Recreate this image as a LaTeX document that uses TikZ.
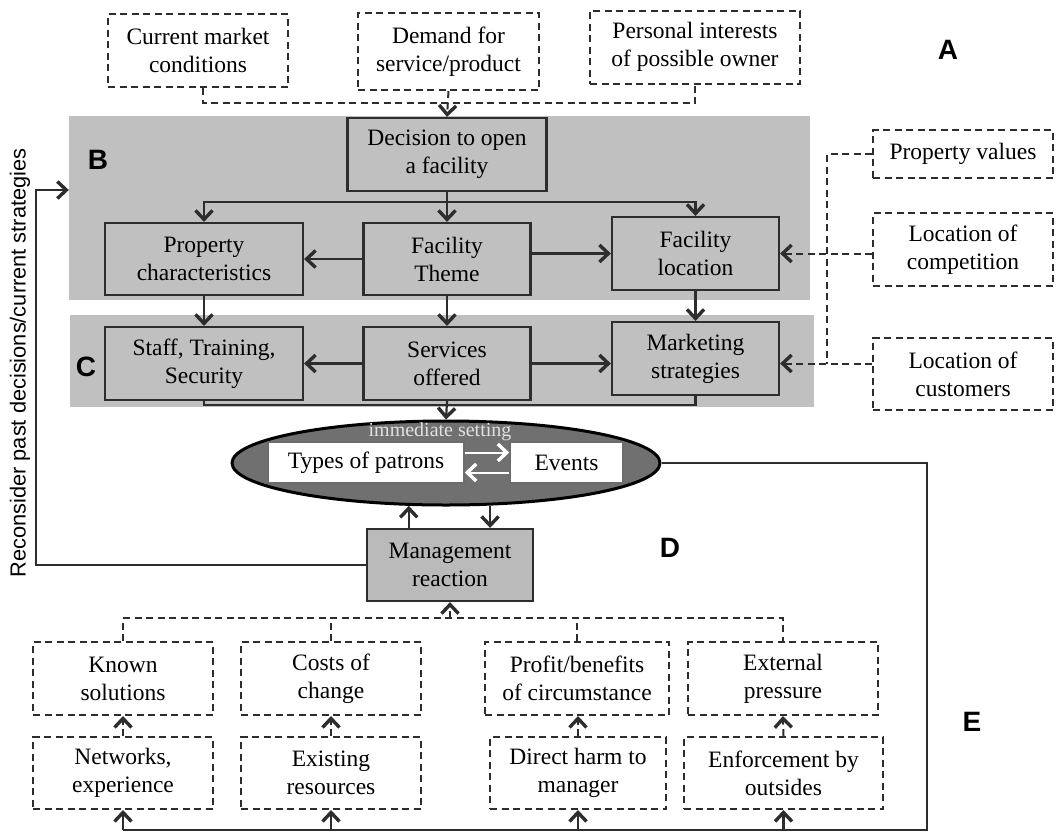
\documentclass[tikz,border=0pt]{standalone}
\usepackage{fontspec}
\setmainfont{Liberation Serif}
\newfontfamily\arialfont{Liberation Sans}
\usetikzlibrary{arrows.meta,shapes.geometric}

\definecolor{band}{RGB}{192,192,192}
\definecolor{mgmtgray}{RGB}{186,186,186}
\definecolor{ellgray}{RGB}{112,112,112}
\definecolor{ink}{RGB}{45,45,45}
\definecolor{softwhite}{RGB}{225,225,225}

\tikzset{
  every node/.style={font=\fontsize{23.5}{28}\selectfont, text=black},
  sz/.style 2 args={minimum width=#1pt, minimum height=#2pt},
  solidbox/.style={draw=ink, line width=2.2pt, fill=band, align=center, inner sep=0pt},
  dashbox/.style={draw=ink, line width=2pt, dash pattern=on 7pt off 4.5pt,
    fill=white, align=center, inner sep=0pt},
  chev/.tip={Straight Barb[length=9pt,width=17pt,line width=3.4pt]},
  conn/.style={draw=ink, line width=2.2pt},
  arr/.style={conn, -chev},
  dline/.style={draw=ink, line width=2pt, dash pattern=on 7pt off 4.5pt},
  darr/.style={dline, -chev},
  tag/.style={font=\arialfont\bfseries\fontsize{28}{30}\selectfont},
  sidetext/.style={font=\arialfont\fontsize{21.8}{24}\selectfont, rotate=90},
}

\begin{document}
\begin{tikzpicture}[x=1pt, y=-1pt]
\useasboundingbox (0,0) rectangle (1057,833);

% shaded bands
\node[fill=band, inner sep=0pt, sz={741}{184}] (bandB) at (439.5,208) {};
\node[fill=band, inner sep=0pt, sz={744}{92}] (bandC) at (442,361) {};

% section letters
\node[tag] (lA) at (948,50) {A};
\node[tag] (lB) at (98,160) {B};
\node[tag] (lC) at (86,367) {C};
\node[tag] (lD) at (670,548) {D};
\node[tag] (lE) at (972,722) {E};

% outside influences on the decision
\node[dashbox, sz={180}{73}] (cm)  at (198,50.5)  {Current market\\conditions};
\node[dashbox, sz={181}{77}] (dem) at (448.5,51.5) {Demand for\\service/product};
\node[dashbox, sz={210}{73}] (pio) at (695,47)    {Personal interests\\of possible owner};

% band B
\node[solidbox, sz={199}{73}] (dec)   at (447,154.5) {Decision to open\\a facility};
\node[solidbox, sz={198}{72}] (prop)  at (204,259)   {Property\\characteristics};
\node[solidbox, sz={167}{72}] (theme) at (447,259)   {Facility\\Theme};
\node[solidbox, sz={167}{73}] (loc)   at (695.5,253.5) {Facility\\location};

% band C
\node[solidbox, sz={198}{73}] (staff) at (204,363.5)   {Staff, Training,\\Security};
\node[solidbox, sz={167}{73}] (serv)  at (447,363.5)   {Services\\offered};
\node[solidbox, sz={167}{73}] (mkt)   at (695.5,358.5) {Marketing\\strategies};

% location factors
\node[dashbox, sz={180}{48}] (pv)   at (963,154)   {Property values};
\node[dashbox, sz={180}{73}] (comp) at (963,249.5) {Location of\\competition};
\node[dashbox, sz={180}{72}] (cust) at (963,374)   {Location of\\customers};

% immediate setting
\node[ellipse, draw=black, line width=3pt, fill=ellgray, inner sep=0pt, sz={428}{84}] (ell) at (446,463) {};
\node[draw=ink!70, line width=1.5pt, fill=white, inner sep=0pt, sz={196}{41}] (types)  at (366,462.5) {Types of patrons};
\node[draw=ink!70, line width=1.5pt, fill=white, inner sep=0pt, sz={113}{41}] (events) at (566.5,462.5) {Events};
\node[text=softwhite, font=\fontsize{20}{22}\selectfont] (imm) at (440,432) {immediate setting};
\draw[white, line width=2pt, -chev] ([yshift=10pt]types.east) -- ([yshift=10pt]events.west);
\draw[white, line width=2pt, -chev] ([yshift=-10pt]events.west) -- ([yshift=-10pt]types.east);

% management
\node[solidbox, fill=mgmtgray, sz={166}{72}] (mgmt) at (450,565) {Management\\reaction};
\node[sidetext] (recon) at (20,363) {Reconsider past decisions/current strategies};

% factors behind the reaction
\node[dashbox, sz={180}{73}] (known)  at (123,678.5) {Known\\solutions};
\node[dashbox, sz={180}{73}] (costs)  at (331,678.5) {Costs of\\change};
\node[dashbox, sz={184}{73}] (profit) at (577,678.5) {Profit/benefits\\of circumstance};
\node[dashbox, sz={190}{73}] (ext)    at (783,678.5) {External\\pressure};
\node[dashbox, sz={180}{72}] (net)    at (123,773)   {Networks,\\experience};
\node[dashbox, sz={180}{72}] (exist)  at (331,773)   {Existing\\resources};
\node[dashbox, sz={176}{72}] (harm)   at (578,773)   {Direct harm to\\manager};
\node[dashbox, sz={199}{72}] (enf)    at (783.5,773) {Enforcement by\\outsides};

% junction points
\coordinate (tb) at (447,103);
\coordinate (br) at (447,202);
\coordinate (cb) at (447,405);
\coordinate (vj) at (827,363.5);
\coordinate (lc) at (36,190);
\coordinate (rb) at (927,830);
\coordinate (mb) at (450,618);

% top inputs
\draw[dline] ([xshift=5pt]cm.south) |- (pio.south |- tb) -- (pio.south);
\draw[darr] (dem.south) -- (dec.north);

% band B connectors
\draw[conn] (dec.south) -- (br);
\draw[arr] (br) -| (prop.north);
\draw[arr] (br) -- (theme.north);
\draw[arr] (br) -| (loc.north);
\draw[arr] (theme.west) -- (prop.east);
\draw[arr] (loc.west -| theme.east) -- (loc.west);

% B to C
\draw[arr] (prop.south) -- (staff.north);
\draw[arr] (theme.south) -- (serv.north);
\draw[arr] (loc.south) -- (mkt.north);
\draw[arr] (serv.west) -- (staff.east);
\draw[arr] (serv.east) -- (serv.east -| mkt.west);

% location factors
\draw[dline] (pv.west) -| (vj);
\draw[darr] (comp.west |- loc.east) -- (loc.east);
\draw[darr] (cust.west |- vj) -- (mkt.east |- vj);

% C to the immediate setting
\draw[conn] (staff.south) |- (cb) -| (mkt.south);
\draw[arr] (serv.south) -- (ell.north);

% management loop
\draw[arr] (mgmt.north -| ell.229) -- (ell.229);
\draw[arr] (ell.316) -- (ell.316 |- mgmt.north);
\draw[arr] (mgmt.west) -| (lc) -- ([yshift=18pt]bandB.west);

% factors feeding management reaction
\draw[darr] (mb) -- (mgmt.south);
\draw[dline] (known.north) |- (ext.north |- mb) -- (ext.north);
\draw[dline] (costs.north) -- (costs.north |- mb);
\draw[dline] (profit.north) -- (profit.north |- mb);
\draw[darr] (net.north) -- (known.south);
\draw[darr] (exist.north) -- (costs.south);
\draw[darr] (harm.north) -- (harm.north |- profit.south);
\draw[darr] (enf.north) -- (ext.south);

% events feed back to the lowest factors
\draw[conn] (ell.east) -| (rb) -- (rb -| net.south);
\foreach \n in {net,exist,harm,enf}
  \draw[arr] (rb -| \n.south) -- (\n.south);
\end{tikzpicture}
\end{document}
